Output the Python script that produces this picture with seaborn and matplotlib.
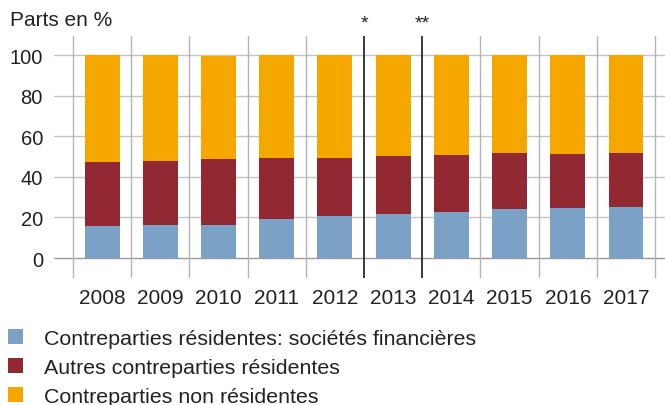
import numpy as np
import pandas as pd
import matplotlib
matplotlib.use('Agg')
import matplotlib.pyplot as plt
import matplotlib.transforms as mtransforms
from matplotlib.patches import Patch
import seaborn as sns

# Data (parts en %)
years = ['2008', '2009', '2010', '2011', '2012', '2013', '2014', '2015', '2016', '2017']
financieres = [15.8, 16.3, 16.3, 19.2, 20.7, 21.7, 22.7, 24.1, 24.6, 25.1]
autres_residentes = [31.5, 31.5, 32.5, 30.1, 28.6, 28.5, 28.0, 27.6, 26.6, 26.6]
non_residentes = [52.7, 52.2, 50.9, 50.5, 50.7, 49.6, 49.3, 48.1, 48.6, 48.1]
labels = ['Contreparties résidentes: sociétés financières',
          'Autres contreparties résidentes',
          'Contreparties non résidentes']
colors = ['#7BA1C6', '#922831', '#F5A700']
markers = {4.5: '*', 5.5: '**'}

sns.set_style('white')
plt.rcParams['font.family'] = ['Liberation Sans', 'DejaVu Sans']
plt.rcParams['text.color'] = '#222222'

df = pd.DataFrame({'Annee': years,
                   'fin': financieres,
                   'aut': autres_residentes,
                   'non': non_residentes})
df['cum2'] = df['fin'] + df['aut']
df['cum3'] = df['cum2'] + df['non']

fig = plt.figure(figsize=(6.65, 4.06), dpi=100)
ax = fig.add_axes([54 / 665, 1 - 279 / 406, 611 / 665, 242 / 406])

# stacked bars by layering cumulative totals
for col, c in zip(['cum3', 'cum2', 'fin'], colors[::-1]):
    sns.barplot(data=df, x='Annee', y=col, color=c, saturation=1,
                width=0.6, ax=ax, zorder=3, edgecolor='none', linewidth=0)

ax.set_xlim(-0.826, 9.67)
ax.set_ylim(-9.85, 109.4)
ax.set_yticks([0, 20, 40, 60, 80, 100])
ax.set_xlabel('')
ax.set_ylabel('')

# grid: horizontal at y ticks, vertical at category boundaries
for y in [0, 20, 40, 60, 80, 100]:
    ax.axhline(y, color='#999999' if y == 0 else '#c4c4c4', lw=1.0, zorder=1)
for xb in np.arange(-0.5, 10.5, 1.0):
    if xb in markers:
        ax.axvline(xb, color='#1a1a1a', lw=1.2, zorder=4)
    else:
        ax.axvline(xb, color='#b4b4b4', lw=1.0, zorder=1)

trans = mtransforms.blended_transform_factory(ax.transData, ax.transAxes)
for xb, s in markers.items():
    ax.text(xb, 1.055, s, transform=trans, ha='center', va='center',
            fontsize=14, color='#222222')

for sp in ax.spines.values():
    sp.set_visible(False)
ax.tick_params(axis='x', length=0, pad=7, labelsize=15, labelcolor='#222222')
ax.tick_params(axis='y', length=0, pad=8, labelsize=14.5, labelcolor='#222222')

fig.text(10 / 665, 1 - 20 / 406, 'Parts en %', ha='left', va='center',
         fontsize=15, color='#222222')

handles = [Patch(facecolor=c, edgecolor='none') for c in colors]
fig.legend(handles, labels, loc='upper left',
           bbox_to_anchor=(8 / 665, 1 - 330 / 406),
           frameon=False, fontsize=15.4, handlelength=0.7, handleheight=0.7,
           handletextpad=1.0, labelspacing=0.47, borderpad=0,
           borderaxespad=0, labelcolor='#222222')

fig.savefig('out.png', dpi=100)
